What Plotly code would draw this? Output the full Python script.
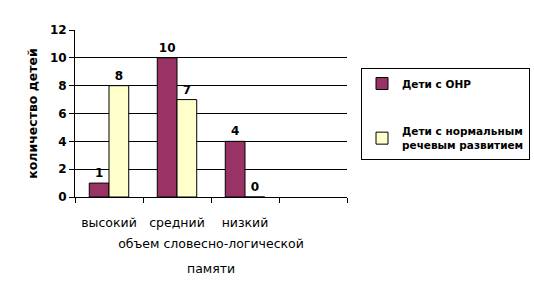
import plotly.graph_objects as go

categories = ["высокий", "средний", "низкий", " "]
onr = [1, 10, 4, None]
normal = [8, 7, 0, None]
series_names = ["Дети с ОНР", "Дети с нормальным<br>речевым развитием"]
y_title = "количество детей"
x_title_lines = ["объем словесно-логической", "памяти"]

FONT = "DejaVu Sans"


def labels(vals):
    return [str(v) if v is not None else "" for v in vals]


fig = go.Figure()
fig.add_trace(go.Bar(
    x=categories, y=onr, name=series_names[0],
    marker=dict(color="#993366", line=dict(color="black", width=1)),
    text=labels(onr), textposition="outside",
    textfont=dict(family=FONT, size=12, color="black", weight="bold"),
    cliponaxis=False, legendgroup="a",
))
fig.add_trace(go.Bar(
    x=categories, y=normal, name=series_names[1],
    marker=dict(color="#FFFFCC", line=dict(color="black", width=1)),
    text=labels(normal), textposition="outside",
    textfont=dict(family=FONT, size=12, color="black", weight="bold"),
    cliponaxis=False, legendgroup="b",
))

fig.update_layout(
    width=534, height=302,
    margin=dict(l=75, r=187, t=30, b=105, autoexpand=False),
    paper_bgcolor="white", plot_bgcolor="white",
    barmode="group", bargap=0.42, bargroupgap=0,
    font=dict(family=FONT, size=11, color="black"),
    showlegend=True,
    legend=dict(
        x=(361 - 75) / 272, xanchor="left", xref="paper",
        y=(197 - 68) / 167, yanchor="top", yref="paper",
        bordercolor="black", borderwidth=1, bgcolor="white",
        font=dict(family=FONT, size=10.5, color="black", weight="bold"),
        traceorder="grouped", tracegroupgap=30,
        itemwidth=30,
    ),
    annotations=[dict(
        text=x_title_lines[1], xref="paper", yref="paper",
        x=0.5, y=-(268 - 197) / 167, xanchor="center", yanchor="middle",
        showarrow=False, font=dict(family=FONT, size=12.5, color="black"),
    )],
)
fig.update_xaxes(
    type="category", categoryorder="array", categoryarray=categories,
    showline=True, linecolor="black", linewidth=1,
    ticks="outside", tickson="boundaries", ticklen=5, tickcolor="black",
    tickfont=dict(family=FONT, size=12.5, color="black"),
    ticklabelstandoff=14,
    title=dict(text=x_title_lines[0], font=dict(family=FONT, size=12.5, color="black"), standoff=10),
    showgrid=False,
)
fig.update_yaxes(
    range=[0, 12], dtick=2,
    showline=True, linecolor="black", linewidth=1,
    ticks="outside", ticklen=5, tickcolor="black",
    showgrid=True, gridcolor="black", gridwidth=1,
    tickfont=dict(family=FONT, size=12, color="black", weight="bold"),
    title=dict(text=y_title, font=dict(family=FONT, size=12.5, color="black", weight="bold"), standoff=9),
    zeroline=False,
)

fig.write_html("out.html")
